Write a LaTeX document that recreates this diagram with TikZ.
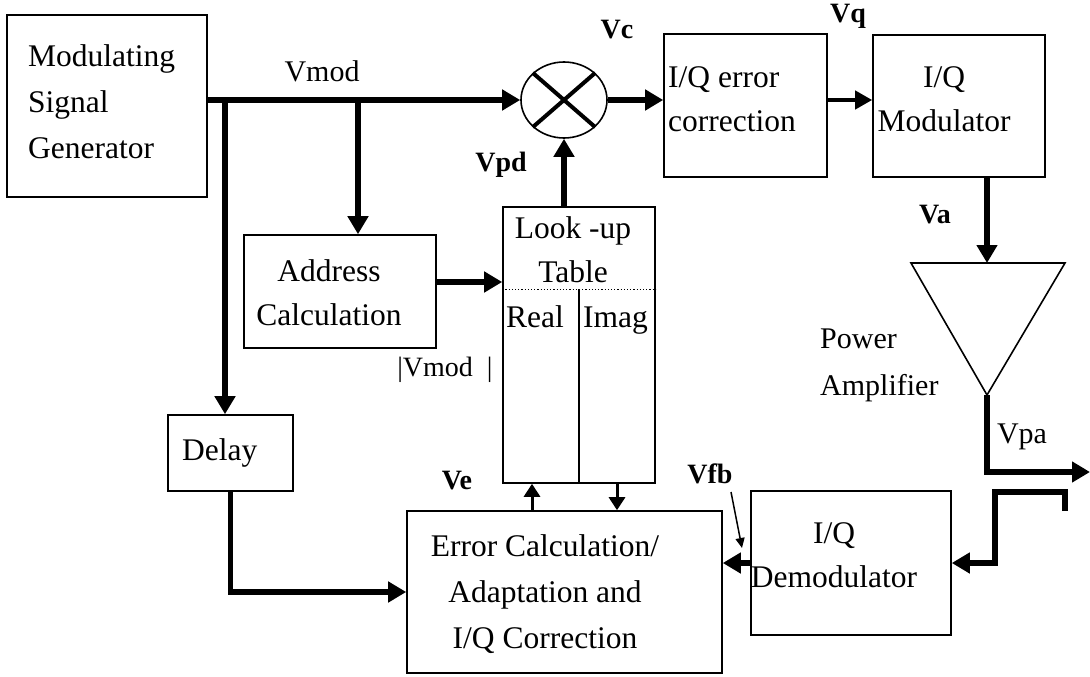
\documentclass[tikz,border=0pt]{standalone}
\usepackage{fontspec}
\setmainfont{Liberation Serif}
\usetikzlibrary{arrows.meta,shapes.geometric,calc}
\tikzset{
  blk/.style={draw, line width=1.6pt, inner sep=0pt},
  txt/.style={font=\fontsize{31.5}{44}\selectfont, inner sep=0pt},
  lbl/.style={font=\fontsize{28}{30}\selectfont\bfseries, inner sep=0pt},
  lblreg/.style={font=\fontsize{30}{32}\selectfont, inner sep=0pt},
  sig/.style={-{Triangle[length=18pt,width=20pt]}, line width=5.5pt},
  sigmid/.style={-{Triangle[length=17pt,width=18pt]}, line width=4pt},
  sigsmall/.style={-{Triangle[length=13pt,width=16pt]}, line width=3pt},
  ptr/.style={-{Triangle[length=10pt,width=9pt]}, line width=1.5pt},
}
\begin{document}
\begin{tikzpicture}[x=1pt,y=-1pt]
  \useasboundingbox (0,0) rectangle (1090,677);
  % blocks
  \node[blk, minimum width=200pt, minimum height=182pt] (msg) at (107,106) {};
  \node[txt, font=\fontsize{31.5}{46}\selectfont, align=left, anchor=west] (msg-t) at (28,102)
    {Modulating\\Signal\\Generator};
  \node[blk, shape=ellipse, minimum width=86pt, minimum height=76pt] (mix) at (564,100) {};
  \draw[line width=4pt] (mix.139) -- (mix.-41);
  \draw[line width=4pt] (mix.41) -- (mix.-139);
  \node[blk, minimum width=163pt, minimum height=143pt] (errc) at (745.5,105.5) {};
  \node[txt, align=left, anchor=west] (errc-t) at (668,99) {I/Q error\\correction};
  \node[blk, minimum width=172pt, minimum height=142pt] (iqmod) at (959,106) {};
  \node[txt, align=center] (iqmod-t) at (944,99) {I/Q\\Modulator};
  \node[blk, minimum width=192pt, minimum height=113pt] (addr) at (340,291.5) {};
  \node[txt, align=center] (addr-t) at (329,293) {Address\\Calculation};
  % look-up table with its two columns
  \node[blk, minimum width=152pt, minimum height=276pt] (lut) at (579,345) {};
  \node[txt, align=center] (lut-t) at (573,250) {Look -up\\Table};
  \coordinate (lut-dl) at ([yshift=-83pt]lut.north west);
  \coordinate (lut-dr) at ([yshift=-83pt]lut.north east);
  \coordinate (lut-dv) at ($(lut-dl)!0.5!(lut-dr)$);
  \draw[dotted, line width=1.2pt] (lut-dl) -- (lut-dr);
  \draw[line width=1.6pt] (lut-dv) -- (lut-dv |- lut.south);
  \node[txt, anchor=base west] (lut-re) at (506,327) {Real};
  \node[txt, anchor=base west] (lut-im) at (583,327) {Imag};
  \node[blk, minimum width=125pt, minimum height=76pt] (delay) at (230.5,453) {};
  \node[txt, anchor=west] (delay-t) at (182,453) {Delay};
  \node[blk, minimum width=315pt, minimum height=162pt] (err) at (564.5,592) {};
  \node[txt, font=\fontsize{31.5}{46}\selectfont, align=center] (err-t) at (545,594)
    {Error Calculation/\\Adaptation and\\I/Q Correction};
  \node[blk, minimum width=200pt, minimum height=144pt] (demod) at (851,563) {};
  \node[txt, align=center] (demod-t) at (834,555) {I/Q\\Demodulator};
  % power amplifier
  \coordinate (pa-l) at (911,263);
  \coordinate (pa-r) at (1065,263);
  \coordinate (pa-tip) at (987,395);
  \coordinate (pa-in) at (987,263);
  \draw[line width=1.6pt, line join=miter] (pa-l) -- (pa-r) -- (pa-tip) -- cycle;
  \node[txt, font=\fontsize{30}{47}\selectfont, align=left, anchor=west] (pa-t) at (820,365)
    {Power\\Amplifier};
  % signal paths
  \coordinate (tap1) at (225,100);
  \coordinate (tap2) at (358,100);
  \draw[sig] (msg.east |- mix.west) -- (mix.west);
  \draw[sig] (tap1) -- (tap1 |- delay.north);
  \draw[sig] (tap2) -- (tap2 |- addr.north);
  \coordinate (addr-o) at ([yshift=9.5pt]addr.east);
  \draw[sig] (addr-o) -- (addr-o -| lut.west);
  \draw[sig] (mix.south |- lut.north) -- (mix.south);
  \draw[sig] (mix.east) -- (mix.east -| errc.west);
  \draw[sigmid] (mix.east -| errc.east) -- (mix.east -| iqmod.west);
  \draw[sig] (pa-in |- iqmod.south) -- (pa-in);
  \coordinate (out) at (1090,472);
  \draw[sig] (pa-tip) |- (out);
  % feedback loop
  \coordinate (fbtap) at (1065,511);
  \coordinate (fbtop) at (995,492);
  \draw[sig] (fbtap) |- (fbtop) |- (demod.east);
  \draw[sig] (demod.west) -- (demod.west -| err.east);
  \draw[sig] (delay.south) |- (err.west);
  \coordinate (lut-a) at ([xshift=-47pt]lut.south);
  \coordinate (lut-b) at ([xshift=38pt]lut.south);
  \draw[sigsmall] (err.north -| lut-a) -- (lut-a);
  \draw[sigsmall] (lut-b) -- (lut-b |- err.north);
  \coordinate (vfb-s) at (731,492);
  \coordinate (vfb-e) at (742,548);
  \draw[ptr] (vfb-s) -- (vfb-e);
  % signal names
  \node[lblreg] (l-vmod) at (322,71) {Vmod};
  \node[lbl] (l-vc) at (617,30) {Vc};
  \node[lbl] (l-vq) at (848,16) {Vq};
  \node[lbl] (l-va) at (935,215) {Va};
  \node[lbl] (l-vpd) at (501,165) {Vpd};
  \node[lbl] (l-ve) at (457,481) {Ve};
  \node[lbl] (l-vfb) at (710,474) {Vfb};
  \node[lblreg] (l-vpa) at (1022,437) {Vpa};
  \node[lblreg, font=\fontsize{28}{30}\selectfont] (l-absv) at (445,370) {|Vmod\ \ |};
\end{tikzpicture}
\end{document}
